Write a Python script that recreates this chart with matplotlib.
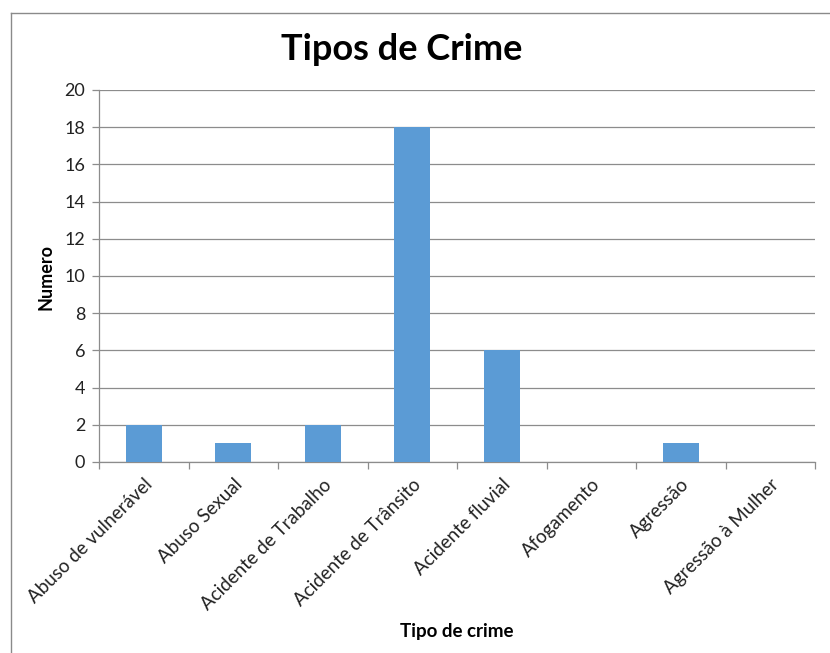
import matplotlib
matplotlib.use("Agg")
import matplotlib.pyplot as plt
from matplotlib.lines import Line2D
import numpy as np

categories = ["Abuso de vulnerável", "Abuso Sexual", "Acidente de Trabalho",
              "Acidente de Trânsito", "Acidente fluvial", "Afogamento",
              "Agressão", "Agressão à Mulher"]
values = [2, 1, 2, 18, 6, 0, 1, 0]
y_ticks = list(range(0, 21, 2))

plt.rcParams['font.family'] = ['Lato', 'DejaVu Sans']

W, H = 830, 653
fig = plt.figure(figsize=(W / 100, H / 100), dpi=100)
ax = fig.add_axes([99 / W, 1 - 462 / H, (815 - 99) / W, (462 - 90) / H])

grid_c = "#8c8c8c"
x = np.arange(len(categories))
ax.bar(x, values, width=0.4, color="#5B9BD5", zorder=3)

ax.set_xlim(-0.5, len(categories) - 0.5)
ax.set_ylim(0, 20)
ax.set_yticks(y_ticks)
ax.set_yticklabels([str(v) for v in y_ticks], fontsize=13, color="#222222")
ax.yaxis.grid(True, color=grid_c, linewidth=0.9, zorder=0)
ax.tick_params(axis='y', length=5, color=grid_c, width=0.9, pad=5)

ax.set_xticks(x)
ax.set_xticklabels(categories, rotation=45, ha='right', va='top',
                   rotation_mode='anchor', fontsize=13.5, color="#222222")
ax.tick_params(axis='x', which='major', length=0, pad=10)
ax.set_xticks(np.arange(-0.5, len(categories), 1), minor=True)
ax.tick_params(axis='x', which='minor', length=5, color=grid_c, width=0.9)

for s in ["top", "right"]:
    ax.spines[s].set_visible(False)
for s in ["left", "bottom"]:
    ax.spines[s].set_color(grid_c)
    ax.spines[s].set_linewidth(0.9)

fig.text(402 / W, 1 - 50 / H, "Tipos de Crime", ha='center', va='center',
         fontsize=26, fontweight='bold', color="#000000")
fig.text(46 / W, 1 - 277 / H, "Numero", ha='center', va='center',
         rotation=90, fontsize=13, fontweight='bold', color="#000000")
fig.text(457 / W, 1 - 632 / H, "Tipo de crime", ha='center', va='center',
         fontsize=13.5, fontweight='bold', color="#000000")

# chart frame
fig.add_artist(Line2D([10.5 / W, 10.5 / W], [0, 1 - 12.5 / H],
                      transform=fig.transFigure, color="#8a8a8a", linewidth=1))
fig.add_artist(Line2D([10.5 / W, 1], [1 - 12.5 / H, 1 - 12.5 / H],
                      transform=fig.transFigure, color="#8a8a8a", linewidth=1))

fig.savefig("out.png", dpi=100)
